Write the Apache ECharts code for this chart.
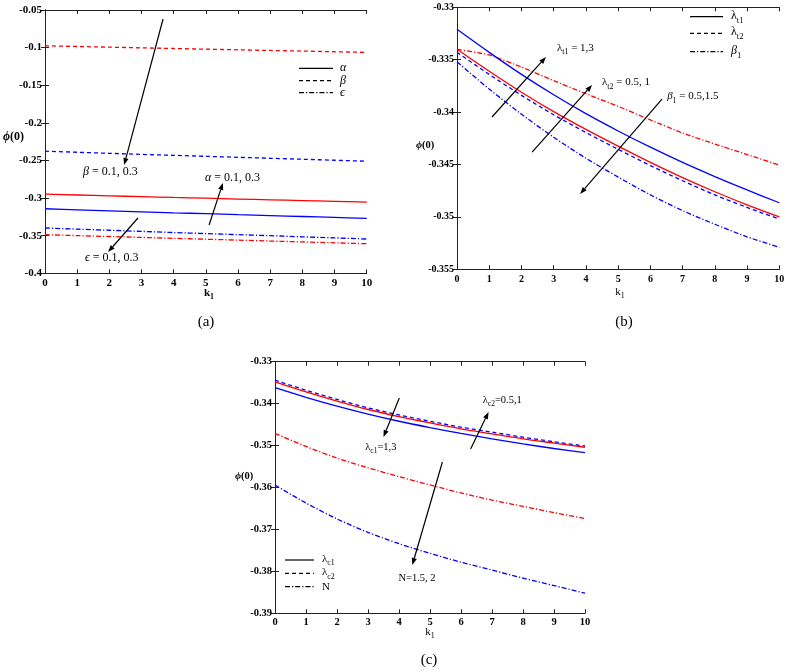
<!DOCTYPE html>
<html><head><meta charset="utf-8">
<script src="https://cdn.jsdelivr.net/npm/echarts@6/dist/echarts.min.js"></script>
<style>html,body{margin:0;padding:0;background:#fff}#c{width:789px;height:672px}</style>
</head><body><div id="c"></div>
<script>
// ---------- data ----------
const kValues = [0, 1, 2, 3, 4, 5, 6, 7, 8, 9, 10];
const xTicks = ['0','1','2','3','4','5','6','7','8','9','10'];

// panel (a)
const aAlphaRed  = [-0.2948,-0.2959,-0.2970,-0.2981,-0.2992,-0.3002,-0.3013,-0.3023,-0.3033,-0.3044,-0.3054];
const aAlphaBlue = [-0.3142,-0.3156,-0.3170,-0.3183,-0.3196,-0.3208,-0.3221,-0.3233,-0.3245,-0.3257,-0.3269];
const aBetaRed   = [-0.0976,-0.0985,-0.0994,-0.1003,-0.1012,-0.1021,-0.1029,-0.1038,-0.1046,-0.1055,-0.1063];
const aBetaBlue  = [-0.2377,-0.2391,-0.2405,-0.2419,-0.2432,-0.2445,-0.2458,-0.2471,-0.2484,-0.2497,-0.2510];
const aEpsBlue   = [-0.3398,-0.3413,-0.3428,-0.3443,-0.3458,-0.3472,-0.3486,-0.3500,-0.3515,-0.3529,-0.3544];
const aEpsRed    = [-0.3487,-0.3499,-0.3511,-0.3523,-0.3535,-0.3547,-0.3559,-0.3571,-0.3583,-0.3595,-0.3607];

// panel (b)
const bT1Blue    = [-0.3321,-0.3343,-0.3364,-0.33835,-0.34015,-0.3418,-0.34335,-0.3448,-0.34615,-0.34743,-0.34865];
const bRed       = [-0.3340,-0.3361,-0.3381,-0.33995,-0.34165,-0.34325,-0.3448,-0.34625,-0.3476,-0.34885,-0.3500];
const bT2Blue    = [-0.3343,-0.3364,-0.3384,-0.34025,-0.34195,-0.34355,-0.3451,-0.34655,-0.3479,-0.3491,-0.3502];
const bB1Red     = [-0.3340,-0.33455,-0.3357,-0.3370,-0.33825,-0.33945,-0.34075,-0.3420,-0.34305,-0.34405,-0.34505];
const bB1Blue    = [-0.3352,-0.3378,-0.3402,-0.3424,-0.3444,-0.3462,-0.3479,-0.3494,-0.3507,-0.3519,-0.3529];

// panel (c)
const cC2Blue    = [-0.3344,-0.3368,-0.3390,-0.3410,-0.3427,-0.3442,-0.3456,-0.3468,-0.3480,-0.3491,-0.3501];
const cRed       = [-0.3348,-0.3372,-0.3394,-0.3414,-0.3431,-0.3446,-0.3460,-0.3472,-0.3484,-0.3494,-0.3504];
const cC1Blue    = [-0.3362,-0.3385,-0.3406,-0.3425,-0.3442,-0.3457,-0.3471,-0.3484,-0.3496,-0.3507,-0.3517];
const cNRed      = [-0.3471,-0.3502,-0.3530,-0.3553,-0.3574,-0.3594,-0.3613,-0.3630,-0.3645,-0.3660,-0.3674];
const cNBlue     = [-0.3594,-0.3637,-0.3675,-0.3707,-0.3734,-0.3757,-0.3778,-0.3797,-0.3816,-0.3834,-0.3852];

// axis ranges
const yRangeA = {min: -0.4,  max: -0.05, interval: 0.05};
const yRangeB = {min: -0.355, max: -0.33, interval: 0.005};
const yRangeC = {min: -0.39, max: -0.33, interval: 0.01};

// ---------- styling ----------
const FONT = 'Liberation Serif';
const RED = '#ff0000', BLUE = '#0000ff';
const SOLID = 'solid', DASH = [4, 3], DASHDOT = [5, 2, 1.2, 2];

const grids = [
  {left: 45,  top: 10,    width: 321.7, height: 263.3},
  {left: 457, top: 7.3,   width: 322.3, height: 262},
  {left: 275, top: 361.7, width: 310,   height: 251.6}
];
const yRanges = [yRangeA, yRangeB, yRangeC];
const yFont = [11, 10, 10.5];
const xMargin = [4, 5, 3];

const fmt = v => String(+(+v).toFixed(4));

const xAxes = [], yAxes = [];
grids.forEach((g, i) => {
  const lineS = {show: true, lineStyle: {color: '#222', width: 1}};
  const tickS = {show: true, inside: true, length: 4, lineStyle: {color: '#222', width: 1}};
  xAxes.push({gridIndex: i, type: 'value', min: 0, max: 10, interval: 1, position: 'bottom',
    axisLine: lineS, axisTick: tickS, splitLine: {show: false},
    axisLabel: {color: '#000', fontFamily: FONT, fontWeight: 'bold', fontSize: yFont[i], margin: xMargin[i],
      formatter: v => xTicks[Math.round(v)]}});
  xAxes.push({gridIndex: i, type: 'value', min: 0, max: 10, interval: 1, position: 'top',
    axisLine: lineS, axisTick: tickS, splitLine: {show: false}, axisLabel: {show: false}});
  const r = yRanges[i];
  yAxes.push({gridIndex: i, type: 'value', min: r.min, max: r.max, interval: r.interval, position: 'left',
    axisLine: lineS, axisTick: tickS, splitLine: {show: false},
    axisLabel: {color: '#000', fontFamily: FONT, fontWeight: 'bold', fontSize: yFont[i], margin: 3, formatter: fmt}});
  yAxes.push({gridIndex: i, type: 'value', min: r.min, max: r.max, interval: r.interval, position: 'right',
    axisLine: lineS, axisTick: tickS, splitLine: {show: false}, axisLabel: {show: false}});
});

function ser(p, arr, color, dash, smooth) {
  return {type: 'line', xAxisIndex: 2 * p, yAxisIndex: 2 * p, symbol: 'none', silent: true,
    smooth: smooth === undefined ? 0.3 : smooth, z: 3,
    lineStyle: {color: color, width: 1.3, type: dash},
    data: kValues.map((k, i) => [k, arr[i]])};
}

const series = [
  ser(0, aBetaRed, RED, DASH), ser(0, aBetaBlue, BLUE, DASH),
  ser(0, aAlphaRed, RED, SOLID), ser(0, aAlphaBlue, BLUE, SOLID),
  ser(0, aEpsBlue, BLUE, DASHDOT), ser(0, aEpsRed, RED, DASHDOT),
  ser(1, bB1Red, RED, DASHDOT, 0.15), ser(1, bT1Blue, BLUE, SOLID),
  ser(1, bT2Blue, BLUE, DASH), ser(1, bRed, RED, SOLID), ser(1, bB1Blue, BLUE, DASHDOT),
  ser(2, cC2Blue, BLUE, DASH), ser(2, cRed, RED, SOLID), ser(2, cC1Blue, BLUE, SOLID),
  ser(2, cNRed, RED, DASHDOT), ser(2, cNBlue, BLUE, DASHDOT)
];

const chart = echarts.init(document.getElementById('c'), null, {renderer: 'canvas'});
chart.setOption({
  animation: false, backgroundColor: '#fff',
  grid: grids.map(g => Object.assign({containLabel: false}, g)),
  xAxis: xAxes, yAxis: yAxes, series: series
});

// ---------- annotations ----------
const mctx = document.createElement('canvas').getContext('2d');
function fontStr(s, it, b) { return (it ? 'italic ' : '') + (b ? 'bold ' : '') + s + 'px "' + FONT + '"'; }
function textRun(parts, x, y, size, align) {
  const items = parts.map(p => {
    const fs = p.sub ? size * 0.72 : size;
    mctx.font = fontStr(fs, p.it, p.b);
    return {p: p, fs: fs, w: mctx.measureText(p.t).width};
  });
  const total = items.reduce((s, o) => s + o.w, 0);
  let cx = align === 'center' ? x - total / 2 : x;
  const out = [];
  items.forEach(o => {
    out.push({type: 'text', x: cx, y: y + (o.p.sub ? size * 0.4 : 0), silent: true, z: 10,
      style: {text: o.p.t, fill: '#000', fontFamily: FONT, fontSize: o.fs,
        fontStyle: o.p.it ? 'italic' : 'normal', fontWeight: o.p.b ? 'bold' : 'normal',
        align: 'left', verticalAlign: 'middle', textAlign: 'left', textVerticalAlign: 'middle'}});
    cx += o.w;
  });
  return out;
}
function px(p, pt) { return chart.convertToPixel({xAxisIndex: 2 * p, yAxisIndex: 2 * p}, pt); }
function arrow(p, a, b) {
  const A = px(p, a), B = px(p, b);
  const dx = B[0] - A[0], dy = B[1] - A[1], L = Math.hypot(dx, dy), ux = dx / L, uy = dy / L;
  const hl = 7, hw = 2.6;
  const base = [B[0] - ux * hl, B[1] - uy * hl];
  return [
    {type: 'line', silent: true, z: 9, shape: {x1: A[0], y1: A[1], x2: base[0], y2: base[1]}, style: {stroke: '#000', lineWidth: 1.2}},
    {type: 'polygon', silent: true, z: 9, shape: {points: [B, [base[0] - uy * hw, base[1] + ux * hw], [base[0] + uy * hw, base[1] - ux * hw]]}, style: {fill: '#000'}}
  ];
}
function legLine(x1, x2, y, dash) {
  return {type: 'line', silent: true, z: 9, shape: {x1: x1, y1: y, x2: x2, y2: y},
    style: {stroke: '#000', lineWidth: 1.2, lineDash: dash === SOLID ? null : dash}};
}
function dataText(p, pt, parts, size) { const P = px(p, pt); return textRun(parts, P[0], P[1], size, 'left'); }

let G = [];
// panel (a)
G = G.concat(arrow(0, [3.67, -0.062], [2.46, -0.256]));
G = G.concat(arrow(0, [5.10, -0.3358], [5.53, -0.280]));
G = G.concat(arrow(0, [2.89, -0.3265], [1.96, -0.3717]));
G = G.concat(dataText(0, [1.18, -0.2653], [{t: 'β', it: 1}, {t: ' = 0.1, 0.3'}], 12));
G = G.concat(dataText(0, [4.97, -0.2733], [{t: 'α', it: 1}, {t: ' = 0.1, 0.3'}], 12));
G = G.concat(dataText(0, [1.24, -0.3797], [{t: 'ϵ', it: 1}, {t: ' = 0.1, 0.3'}], 12));
G.push(legLine(299, 333, 68.3, SOLID), legLine(299, 333, 80.7, DASH), legLine(299, 333, 92.7, DASHDOT));
G = G.concat(textRun([{t: 'α', it: 1}], 340, 68.3, 12));
G = G.concat(textRun([{t: 'β', it: 1}], 340, 80.7, 12));
G = G.concat(textRun([{t: 'ϵ', it: 1}], 340, 92.7, 12));
G = G.concat(textRun([{t: 'ϕ', it: 1, b: 1}, {t: '(0)', b: 1}], 3, 137, 12));
G = G.concat(textRun([{t: 'k', b: 1}, {t: '1', b: 1, sub: 1}], 209, 293, 11, 'center'));
G = G.concat(textRun([{t: '(a)'}], 206, 322, 15, 'center'));

// panel (b)
G = G.concat(arrow(1, [1.086, -0.34047], [2.76, -0.33474]));
G = G.concat(arrow(1, [2.33, -0.34381], [4.19, -0.33741]));
G = G.concat(arrow(1, [6.36, -0.33876], [3.82, -0.34781]));
G = G.concat(dataText(1, [3.10, -0.33388], [{t: 'λ'}, {t: 't1', sub: 1}, {t: ' = 1,3'}], 11));
G = G.concat(dataText(1, [4.50, -0.33713], [{t: 'λ'}, {t: 't2', sub: 1}, {t: ' = 0.5, 1'}], 11));
G = G.concat(dataText(1, [6.52, -0.33847], [{t: 'β', it: 1}, {t: '1', sub: 1}, {t: ' = 0.5,1.5'}], 11));
G.push(legLine(690, 723, 16.7, SOLID), legLine(690, 723, 33.3, DASH), legLine(690, 723, 51.7, DASHDOT));
G = G.concat(textRun([{t: 'λ'}, {t: 't1', sub: 1}], 731, 15.5, 12));
G = G.concat(textRun([{t: 'λ'}, {t: 't2', sub: 1}], 731, 32, 12));
G = G.concat(textRun([{t: 'β', it: 1}, {t: '1', sub: 1}], 731, 50.5, 12));
G = G.concat(textRun([{t: 'ϕ', it: 1, b: 1}, {t: '(0)', b: 1}], 416, 145, 10.5));
G = G.concat(textRun([{t: 'k'}, {t: '1', sub: 1}], 620, 292, 11, 'center'));
G = G.concat(textRun([{t: '(b)'}], 624, 322, 15, 'center'));

// panel (c)
G = G.concat(arrow(2, [4.01, -0.33866], [3.50, -0.34796]));
G = G.concat(arrow(2, [6.31, -0.35082], [6.89, -0.34200]));
G = G.concat(arrow(2, [5.40, -0.35392], [4.43, -0.37848]));
G = G.concat(dataText(2, [2.91, -0.35034], [{t: 'λ'}, {t: 'c1', sub: 1}, {t: '=1,3'}], 10.5));
G = G.concat(dataText(2, [6.70, -0.33913], [{t: 'λ'}, {t: 'c2', sub: 1}, {t: '=0.5,1'}], 10.5));
G = G.concat(dataText(2, [3.98, -0.38158], [{t: 'N=1.5, 2'}], 10.5));
G.push(legLine(285, 314, 560, SOLID), legLine(285, 314, 573.3, DASH), legLine(285, 314, 586.7, DASHDOT));
G = G.concat(textRun([{t: 'λ'}, {t: 'c1', sub: 1}], 322, 559, 11));
G = G.concat(textRun([{t: 'λ'}, {t: 'c2', sub: 1}], 322, 572.3, 11));
G = G.concat(textRun([{t: 'N'}], 322, 586.7, 11));
G = G.concat(textRun([{t: 'ϕ', it: 1, b: 1}, {t: '(0)', b: 1}], 235, 476, 10.5));
G = G.concat(textRun([{t: 'k'}, {t: '1', sub: 1}], 430, 632, 11, 'center'));
G = G.concat(textRun([{t: '(c)'}], 429, 660, 15, 'center'));

chart.setOption({graphic: G});
</script>
</body></html>
